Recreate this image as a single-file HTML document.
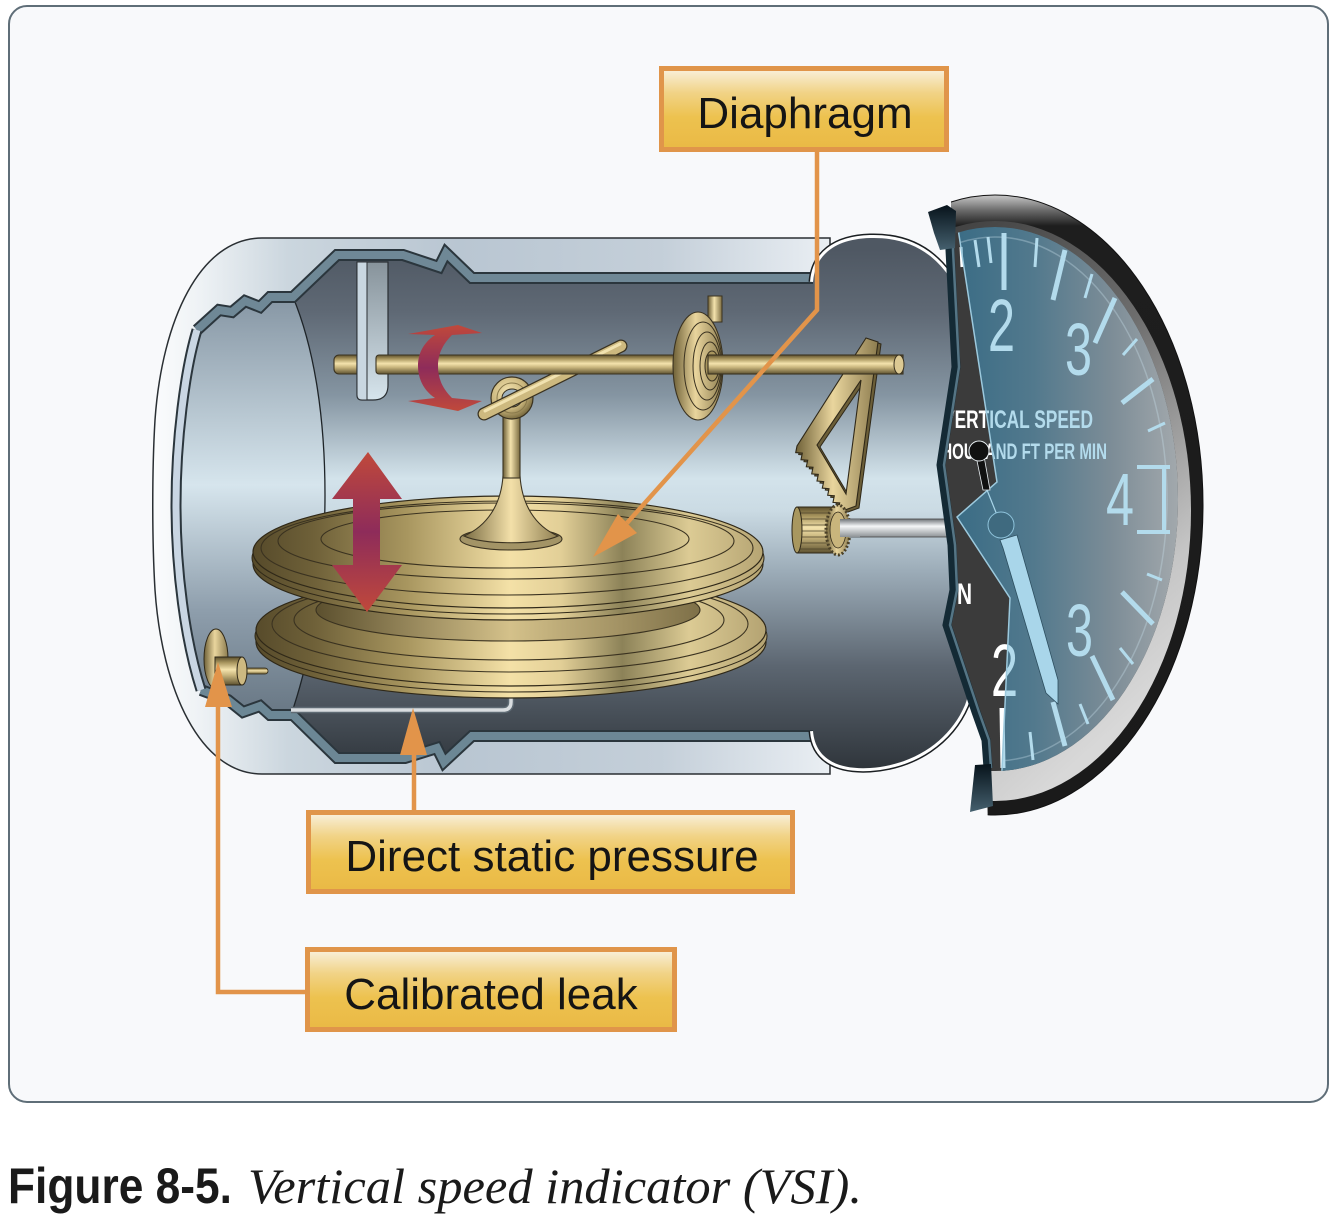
<!DOCTYPE html>
<html><head><meta charset="utf-8"><style>
html,body{margin:0;padding:0;background:#fff;}
svg{display:block;}
</style></head><body>
<svg width="1336" height="1220" viewBox="0 0 1336 1220" xmlns="http://www.w3.org/2000/svg" font-family="'Liberation Sans', Arial, sans-serif">
<defs>
<linearGradient id="shellG" gradientUnits="userSpaceOnUse" x1="153" y1="0" x2="830" y2="0">
<stop offset="0" stop-color="#fbfcfd"/><stop offset="0.07" stop-color="#eef2f5"/><stop offset="0.2" stop-color="#cbd6de"/><stop offset="0.45" stop-color="#b9c6d2"/><stop offset="0.75" stop-color="#c4cfd9"/><stop offset="0.95" stop-color="#e2e8ee"/><stop offset="1" stop-color="#eaeff3"/>
</linearGradient>
<linearGradient id="cav" gradientUnits="userSpaceOnUse" x1="0" y1="250" x2="0" y2="770">
<stop offset="0" stop-color="#4f5863"/><stop offset="0.12" stop-color="#5f6975"/><stop offset="0.28" stop-color="#8595a2"/><stop offset="0.44" stop-color="#d3e3eb"/><stop offset="0.5" stop-color="#cbdbe4"/><stop offset="0.62" stop-color="#9babb7"/><stop offset="0.8" stop-color="#5c6671"/><stop offset="1" stop-color="#2f353b"/>
</linearGradient>
<linearGradient id="lwall" gradientUnits="userSpaceOnUse" x1="0" y1="297" x2="0" y2="715">
<stop offset="0" stop-color="#8696a4"/><stop offset="0.45" stop-color="#d6e5ed"/><stop offset="0.75" stop-color="#8e9eac"/><stop offset="1" stop-color="#687784"/>
</linearGradient>
<linearGradient id="rodV" x1="0" y1="0" x2="0" y2="1">
<stop offset="0" stop-color="#5c4f2c"/><stop offset="0.2" stop-color="#a8955e"/><stop offset="0.45" stop-color="#f4e3ad"/><stop offset="0.65" stop-color="#c8b57d"/><stop offset="1" stop-color="#5e5230"/>
</linearGradient>
<linearGradient id="rodH" x1="0" y1="0" x2="1" y2="0">
<stop offset="0" stop-color="#6a5c34"/><stop offset="0.45" stop-color="#f4e3ad"/><stop offset="1" stop-color="#7a6b40"/>
</linearGradient>
<linearGradient id="coilG" x1="0" y1="0" x2="1" y2="0">
<stop offset="0" stop-color="#6f6138"/><stop offset="0.45" stop-color="#e9d59d"/><stop offset="1" stop-color="#8c7c4f"/>
</linearGradient>
<linearGradient id="disc" gradientUnits="userSpaceOnUse" x1="253" y1="0" x2="766" y2="0">
<stop offset="0" stop-color="#564a2a"/><stop offset="0.12" stop-color="#6f6139"/><stop offset="0.3" stop-color="#a8965f"/><stop offset="0.5" stop-color="#f4e1a7"/><stop offset="0.6" stop-color="#e2cf97"/><stop offset="0.72" stop-color="#8c8258"/><stop offset="0.85" stop-color="#dccb94"/><stop offset="1" stop-color="#b4a372"/>
</linearGradient>
<linearGradient id="discD" gradientUnits="userSpaceOnUse" x1="320" y1="0" x2="700" y2="0">
<stop offset="0" stop-color="#5e5230"/><stop offset="0.5" stop-color="#d4c18a"/><stop offset="1" stop-color="#7e7048"/>
</linearGradient>
<linearGradient id="footG" x1="0" y1="0" x2="1" y2="0">
<stop offset="0" stop-color="#7b6d44"/><stop offset="0.5" stop-color="#f3e0a9"/><stop offset="1" stop-color="#8f7f52"/>
</linearGradient>
<radialGradient id="ringG" cx="0.4" cy="0.35" r="0.7">
<stop offset="0" stop-color="#f3e3ae"/><stop offset="0.6" stop-color="#c9b57c"/><stop offset="1" stop-color="#6e6036"/>
</radialGradient>
<linearGradient id="redV" x1="0" y1="0" x2="0" y2="1">
<stop offset="0" stop-color="#c0493b"/><stop offset="0.5" stop-color="#8e2c5a"/><stop offset="1" stop-color="#c0493b"/>
</linearGradient>
<linearGradient id="bracketG" x1="0" y1="0" x2="0" y2="1">
<stop offset="0" stop-color="#87939b"/><stop offset="1" stop-color="#d6e4ec"/>
</linearGradient>
<linearGradient id="silver" x1="0" y1="0" x2="0" y2="1">
<stop offset="0" stop-color="#6f7478"/><stop offset="0.4" stop-color="#f4f6f7"/><stop offset="1" stop-color="#8d9296"/>
</linearGradient>
<linearGradient id="label" x1="0" y1="0" x2="0" y2="1">
<stop offset="0" stop-color="#f9f1de"/><stop offset="0.3" stop-color="#f1d386"/><stop offset="0.6" stop-color="#edc24f"/><stop offset="1" stop-color="#eab945"/>
</linearGradient>
<linearGradient id="bzA" x1="0" y1="0" x2="0" y2="1">
<stop offset="0" stop-color="#c9c9c9"/><stop offset="0.025" stop-color="#6a6a6a"/><stop offset="0.05" stop-color="#1e1e1e"/><stop offset="1" stop-color="#1a1a1a"/>
</linearGradient>
<linearGradient id="bzB" x1="0" y1="0" x2="0.6" y2="1">
<stop offset="0" stop-color="#2a2a2a"/><stop offset="0.5" stop-color="#6d6d6d"/><stop offset="0.85" stop-color="#c5c5c5"/><stop offset="1" stop-color="#d8d8d8"/>
</linearGradient>
<linearGradient id="glassG" gradientUnits="userSpaceOnUse" x1="955" y1="0" x2="1180" y2="0">
<stop offset="0" stop-color="#3a6c85"/><stop offset="0.35" stop-color="#52798d"/><stop offset="0.7" stop-color="#7d8d97"/><stop offset="1" stop-color="#a3a9ad"/>
</linearGradient>
<linearGradient id="blockG" x1="0" y1="0" x2="0" y2="1">
<stop offset="0" stop-color="#07131b"/><stop offset="1" stop-color="#45606e"/>
</linearGradient>
<clipPath id="gclip"><polygon points="951,180 951,212 950,250 956,367 941,465 952,545 954,590 947,625 976,712 986,740 988,830 1260,830 1260,180"/></clipPath>
<clipPath id="faceclip"><ellipse cx="995" cy="499" rx="183" ry="272"/></clipPath>
<clipPath id="glassclip"><polygon points="957,200 957,222 997,482 957,517 1010,598 1001,790 1260,790 1260,200"/></clipPath>
</defs>

<!-- frame -->
<rect x="9" y="6" width="1319" height="1096" rx="18" fill="#f8f9fb" stroke="#5f6e78" stroke-width="2"/>

<!-- shell -->
<path d="M830,238 L262,238 C200,238 162,320 155,420 C152,470 152,540 155,590 C162,690 200,774 262,774 L830,774 Z" fill="url(#shellG)" stroke="#2a2f33" stroke-width="1.5"/>

<!-- cavity -->
<path d="M197,330 L219,310 L232,312 L245,301 L260,307 L270,297 L293,297 L337,255 L403,255 L439,267 L446,253 L472,278 L845,278 L845,736 L472,736 L444,762 L437,748 L405,758 L337,758 L293,715 L270,715 L260,706 L243,712 L228,700 L201,690 C185,640 176,570 176,505 C176,440 185,370 197,330 Z" fill="url(#cav)"/>
<path d="M197,330 L219,310 L232,312 L245,301 L260,307 L270,297 L293,297 C315,350 325,420 325,495 C325,580 310,660 291,715 L270,715 L260,706 L243,712 L228,700 L201,690 C185,640 176,570 176,505 C176,440 185,370 197,330 Z" fill="url(#lwall)"/>
<path d="M293,297 C315,350 325,420 325,495 C325,580 310,660 291,715" fill="none" stroke="#1e2428" stroke-width="1.3"/>

<!-- bands -->
<polyline points="197,330 219,310 232,312 245,301 260,307 270,297 293,297 337,255 403,255 439,267 446,253 472,278 840,278" fill="none" stroke="#2b363d" stroke-width="12"/>
<polyline points="197,330 219,310 232,312 245,301 260,307 270,297 293,297 337,255 403,255 439,267 446,253 472,278 840,278" fill="none" stroke="#6f8896" stroke-width="8"/>
<polyline points="201,690 228,700 243,712 260,706 270,715 293,715 337,758 405,758 437,748 444,762 472,736 840,736" fill="none" stroke="#2b363d" stroke-width="12"/>
<polyline points="201,690 228,700 243,712 260,706 270,715 293,715 337,758 405,758 437,748 444,762 472,736 840,736" fill="none" stroke="#6c8795" stroke-width="8"/>
<path d="M197,330 C185,370 176,440 176,505 C176,570 185,640 201,690" fill="none" stroke="#2b363d" stroke-width="11"/>
<path d="M197,330 C185,370 176,440 176,505 C176,570 185,640 201,690" fill="none" stroke="#c9d6e3" stroke-width="7"/>

<!-- right cap -->
<path d="M813,282 C815,255 835,239 870,238 C905,237 930,250 948,275 C975,330 985,420 985,505 C985,600 978,670 965,705 C950,740 915,765 870,768 C835,770 815,757 813,731" fill="none" stroke="#1b1f22" stroke-width="9"/>
<path d="M813,282 C815,255 835,239 870,238 C905,237 930,250 948,275 C975,330 985,420 985,505 C985,600 978,670 965,705 C950,740 915,765 870,768 C835,770 815,757 813,731" fill="none" stroke="#ffffff" stroke-width="6"/>
<path d="M813,282 C815,255 835,239 870,238 C905,237 930,250 948,275 C975,330 985,420 985,505 C985,600 978,670 965,705 C950,740 915,765 870,768 C835,770 815,757 813,731 Z" fill="url(#cav)"/>

<!-- tube & calibrated leak -->
<path d="M291,710 L503,710 Q511,710 511,702 L511,697" fill="none" stroke="#5f6b74" stroke-width="6.5"/>
<path d="M291,710 L503,710 Q511,710 511,702 L511,697" fill="none" stroke="#d9dde0" stroke-width="3.5"/>
<ellipse cx="216" cy="659" rx="12" ry="30" fill="url(#coilG)" stroke="#2f2818" stroke-width="1"/>
<rect x="243" y="668" width="25" height="6" rx="3" fill="url(#rodV)" stroke="#2f2818" stroke-width="0.8"/>
<rect x="215" y="657" width="27" height="28" fill="url(#rodV)" stroke="#2f2818" stroke-width="1"/>
<ellipse cx="242" cy="671" rx="5" ry="14" fill="#cdb981" stroke="#2f2818" stroke-width="1"/>

<!-- lower disc -->
<ellipse cx="511" cy="642" rx="255" ry="56" fill="url(#disc)" stroke="#2f2818" stroke-width="1.2"/>
<ellipse cx="511" cy="636" rx="256" ry="56" fill="url(#disc)" stroke="#2f2818" stroke-width="1"/>
<ellipse cx="511" cy="630" rx="255" ry="56" fill="url(#disc)" stroke="#2f2818" stroke-width="1.2"/>
<ellipse cx="510" cy="624" rx="238" ry="48" fill="none" stroke="#3a3220" stroke-width="1.1"/>
<ellipse cx="509" cy="620" rx="215" ry="40" fill="none" stroke="#3a3220" stroke-width="1.1"/>
<ellipse cx="508" cy="610" rx="192" ry="31" fill="url(#discD)" stroke="#3a3220" stroke-width="1.1"/>
<!-- upper disc -->
<ellipse cx="508" cy="564" rx="255" ry="56" fill="url(#disc)" stroke="#2f2818" stroke-width="1.2"/>
<ellipse cx="508" cy="558" rx="256" ry="56" fill="url(#disc)" stroke="#2f2818" stroke-width="1"/>
<ellipse cx="508" cy="552" rx="255" ry="56" fill="url(#disc)" stroke="#2f2818" stroke-width="1.2"/>
<ellipse cx="507" cy="548" rx="246" ry="47" fill="none" stroke="#3a3220" stroke-width="1.1"/>
<ellipse cx="506" cy="541" rx="228" ry="38" fill="none" stroke="#3a3220" stroke-width="1.1"/>
<ellipse cx="505" cy="539" rx="184" ry="29" fill="none" stroke="#3a3220" stroke-width="1.1"/>
<ellipse cx="511" cy="539" rx="51" ry="11" fill="#a39466" stroke="#3a3220" stroke-width="1.1"/>
<!-- foot & post -->
<path d="M503,476 L520,476 C522,505 535,526 558,536 C540,545 482,545 464,536 C487,526 501,505 503,476 Z" fill="url(#footG)" stroke="#3a3220" stroke-width="1.1"/>
<rect x="503" y="416" width="17" height="62" fill="url(#rodH)" stroke="#3a3220" stroke-width="1.1"/>

<!-- red double arrow -->
<polygon points="368,452 402,499 380,499 380,565 402,565 367,612 332,565 353,565 353,499 332,499" fill="url(#redV)"/>

<!-- rod left, bracket -->
<rect x="334" y="355" width="40" height="19" rx="5" fill="url(#rodV)" stroke="#3a3220" stroke-width="1.1"/>
<path d="M357,262 L388,262 L388,385 Q388,400 373,400 L362,400 Q357,400 357,395 Z" fill="url(#bracketG)" stroke="#2a2f33" stroke-width="1.2"/>
<path d="M357,262 L367,262 L367,400 L362,400 Q357,400 357,395 Z" fill="#c9d7e1" stroke="#2a2f33" stroke-width="1"/>

<!-- ring & arm -->
<circle cx="512" cy="398" r="21" fill="url(#ringG)" stroke="#3a3220" stroke-width="1.2"/>
<circle cx="512" cy="398" r="15" fill="none" stroke="#8a7a4c" stroke-width="1"/>
<ellipse cx="512" cy="398" rx="10" ry="9" fill="#9fb2bf" stroke="#3a3220" stroke-width="1"/>
<line x1="484" y1="414" x2="621" y2="346" stroke="#3a3220" stroke-width="13" stroke-linecap="round"/>
<line x1="484" y1="414" x2="621" y2="346" stroke="#cdb97f" stroke-width="10.5" stroke-linecap="round"/>
<line x1="485" y1="411" x2="620" y2="344" stroke="#f1e2b0" stroke-width="3" stroke-linecap="round"/>

<!-- main rod -->
<rect x="376" y="355" width="527" height="19" rx="3" fill="url(#rodV)" stroke="#3a3220" stroke-width="1.1"/>

<!-- rotation arrow -->
<path d="M408,334 L458,325 L482,333 L452,335 C442,345 438,355 438,366 C438,378 442,388 452,398 L482,401 L458,411 L408,401 L435,398 C423,390 418,378 418,366 C418,354 423,343 435,335 Z" fill="url(#redV)"/>

<!-- coil spring -->
<rect x="708" y="296" width="14" height="26" fill="url(#rodH)" stroke="#3a3220" stroke-width="1"/>
<ellipse cx="698" cy="366" rx="25" ry="54" fill="url(#coilG)" stroke="#3a3220" stroke-width="1.1"/>
<ellipse cx="703" cy="366" rx="19" ry="44" fill="none" stroke="#3a3220" stroke-width="1"/>
<ellipse cx="707" cy="366" rx="14" ry="34" fill="none" stroke="#3a3220" stroke-width="1"/>
<ellipse cx="710" cy="366" rx="10" ry="24" fill="none" stroke="#3a3220" stroke-width="1"/>
<ellipse cx="712" cy="366" rx="7" ry="15" fill="#a8955e" stroke="#3a3220" stroke-width="1"/>

<!-- sector gear -->
<path transform="translate(3,2)" fill="#6b5e38" fill-rule="evenodd" stroke="#2f2818" stroke-width="1" d="M866,338 L878,342 L856,506 L845,510 L838.3,509.5 L839.7,502.9 L833,502.4 L834.3,495.8 L827.7,495.3 L829,488.7 L822.3,488.1 L823.7,481.6 L817,481 L818.3,474.4 L811.7,473.9 L813,467.3 L806.3,466.8 L807.7,460.2 L801,459.7 L802.3,453.1 L795.7,452.6 L797,446 Z M861,380 L846,494 L817,445 Z"/>
<path fill="url(#coilG)" fill-rule="evenodd" stroke="#2f2818" stroke-width="1.1" d="M866,338 L878,342 L856,506 L845,510 L838.3,509.5 L839.7,502.9 L833,502.4 L834.3,495.8 L827.7,495.3 L829,488.7 L822.3,488.1 L823.7,481.6 L817,481 L818.3,474.4 L811.7,473.9 L813,467.3 L806.3,466.8 L807.7,460.2 L801,459.7 L802.3,453.1 L795.7,452.6 L797,446 Z M861,380 L846,494 L817,445 Z"/>

<!-- rod right segment -->
<rect x="708" y="355" width="195" height="19" fill="url(#rodV)" stroke="#3a3220" stroke-width="1.1"/>
<ellipse cx="899" cy="364.5" rx="5" ry="9.5" fill="#dcc993" stroke="#3a3220" stroke-width="1"/>

<!-- pinion & shaft -->
<rect x="836" y="519" width="115" height="18" fill="url(#silver)" stroke="#444" stroke-width="0.8"/>
<rect x="797" y="507" width="39" height="46" fill="url(#rodV)" stroke="#2f2818" stroke-width="1"/>
<g stroke="#4a4028" stroke-width="0.8">
<line x1="797" y1="513" x2="836" y2="513"/><line x1="797" y1="519" x2="836" y2="519"/><line x1="797" y1="525" x2="836" y2="525"/><line x1="797" y1="531" x2="836" y2="531"/><line x1="797" y1="537" x2="836" y2="537"/><line x1="797" y1="543" x2="836" y2="543"/><line x1="797" y1="549" x2="836" y2="549"/>
</g>
<ellipse cx="797" cy="530" rx="5" ry="23" fill="#a8975f" stroke="#2f2818" stroke-width="1"/>
<ellipse cx="838" cy="530" rx="12" ry="25" fill="url(#coilG)" stroke="#4a4028" stroke-width="3" stroke-dasharray="2 2"/>
<ellipse cx="838" cy="530" rx="8" ry="18" fill="#c9b57c" stroke="#2f2818" stroke-width="0.8"/>
<rect x="840" y="519" width="20" height="18" fill="url(#silver)"/>

<!-- GAUGE -->
<g clip-path="url(#gclip)">
<ellipse cx="995" cy="505" rx="208" ry="310" fill="url(#bzA)" stroke="#111" stroke-width="1"/>
<ellipse cx="995" cy="511" rx="196" ry="290" fill="url(#bzB)"/>
<ellipse cx="995" cy="499" rx="183" ry="272" fill="#3b3b3b"/>
<g clip-path="url(#faceclip)">
<g stroke="#ffffff" fill="none">
<g stroke-width="3"><line x1="961" y1="247" x2="962" y2="267"/><line x1="975" y1="240" x2="979" y2="267"/><line x1="988" y1="237" x2="991" y2="263"/><line x1="1037" y1="238" x2="1035" y2="267"/><line x1="1092" y1="274" x2="1085" y2="298"/><line x1="1137" y1="339" x2="1123" y2="355"/><line x1="1165" y1="423" x2="1148" y2="431"/><line x1="1162" y1="580" x2="1147" y2="574"/><line x1="1133" y1="664" x2="1120" y2="648"/><line x1="1088" y1="724" x2="1080" y2="704"/><line x1="1033" y1="760" x2="1030" y2="732"/></g>
<g stroke-width="5"><line x1="1004" y1="233" x2="1004" y2="290"/><line x1="1065" y1="250" x2="1053" y2="300"/><line x1="1115" y1="298" x2="1095" y2="343"/><line x1="1153" y1="379" x2="1122" y2="403"/><line x1="1153" y1="624" x2="1122" y2="592"/><line x1="1113" y1="700" x2="1092" y2="656"/><line x1="1065" y1="746" x2="1053" y2="702"/><line x1="1003" y1="768" x2="1002" y2="708"/></g>
<g stroke-width="4"><line x1="1137" y1="467" x2="1170" y2="467"/><line x1="1137" y1="532" x2="1170" y2="532"/><line x1="1164" y1="467" x2="1164" y2="532"/></g>
</g>
<g fill="#ffffff">
<text x="988" y="351" font-size="74" textLength="27" lengthAdjust="spacingAndGlyphs">2</text>
<text x="1065" y="375" font-size="74" textLength="27" lengthAdjust="spacingAndGlyphs">3</text>
<text x="1106" y="525" font-size="74" textLength="28" lengthAdjust="spacingAndGlyphs">4</text>
<text x="1066" y="656" font-size="74" textLength="27" lengthAdjust="spacingAndGlyphs">3</text>
<text x="991" y="696" font-size="74" textLength="27" lengthAdjust="spacingAndGlyphs">2</text>
<text x="943" y="428" font-size="25" font-weight="bold" textLength="150" lengthAdjust="spacingAndGlyphs">VERTICAL SPEED</text>
<text x="932" y="459" font-size="22" font-weight="bold" textLength="175" lengthAdjust="spacingAndGlyphs">THOUSAND FT PER MIN</text>
<text x="906" y="604" font-size="30" font-weight="bold" textLength="66" lengthAdjust="spacingAndGlyphs">DOWN</text>
</g>
<g clip-path="url(#glassclip)">
<rect x="940" y="200" width="260" height="600" fill="url(#glassG)"/>
<ellipse cx="995" cy="499" rx="172" ry="262" fill="none" stroke="#c8e0ea" stroke-opacity="0.35" stroke-width="1.5"/>
<g stroke="#b3dbec" fill="none">
<g stroke-width="3"><line x1="961" y1="247" x2="962" y2="267"/><line x1="975" y1="240" x2="979" y2="267"/><line x1="988" y1="237" x2="991" y2="263"/><line x1="1037" y1="238" x2="1035" y2="267"/><line x1="1092" y1="274" x2="1085" y2="298"/><line x1="1137" y1="339" x2="1123" y2="355"/><line x1="1165" y1="423" x2="1148" y2="431"/><line x1="1162" y1="580" x2="1147" y2="574"/><line x1="1133" y1="664" x2="1120" y2="648"/><line x1="1088" y1="724" x2="1080" y2="704"/><line x1="1033" y1="760" x2="1030" y2="732"/></g>
<g stroke-width="5"><line x1="1004" y1="233" x2="1004" y2="290"/><line x1="1065" y1="250" x2="1053" y2="300"/><line x1="1115" y1="298" x2="1095" y2="343"/><line x1="1153" y1="379" x2="1122" y2="403"/><line x1="1153" y1="624" x2="1122" y2="592"/><line x1="1113" y1="700" x2="1092" y2="656"/><line x1="1065" y1="746" x2="1053" y2="702"/><line x1="1003" y1="768" x2="1002" y2="708"/></g>
<g stroke-width="4"><line x1="1137" y1="467" x2="1170" y2="467"/><line x1="1137" y1="532" x2="1170" y2="532"/><line x1="1164" y1="467" x2="1164" y2="532"/></g>
</g>
<g fill="#b3dbec">
<text x="988" y="351" font-size="74" textLength="27" lengthAdjust="spacingAndGlyphs">2</text>
<text x="1065" y="375" font-size="74" textLength="27" lengthAdjust="spacingAndGlyphs">3</text>
<text x="1106" y="525" font-size="74" textLength="28" lengthAdjust="spacingAndGlyphs">4</text>
<text x="1066" y="656" font-size="74" textLength="27" lengthAdjust="spacingAndGlyphs">3</text>
<text x="991" y="696" font-size="74" textLength="27" lengthAdjust="spacingAndGlyphs">2</text>
<text x="943" y="428" font-size="25" font-weight="bold" textLength="150" lengthAdjust="spacingAndGlyphs">VERTICAL SPEED</text>
<text x="932" y="459" font-size="22" font-weight="bold" textLength="175" lengthAdjust="spacingAndGlyphs">THOUSAND FT PER MIN</text>
</g>
</g>
<polyline points="957,222 997,482 957,517 1010,598 1001,790" fill="none" stroke="#9cc9dd" stroke-width="1.5"/>
</g>
<path d="M976,456 L984,456 L990,490 L983,490 Z" fill="#111" stroke="#e8eef2" stroke-width="0.8"/>
<circle cx="979" cy="451" r="10" fill="#111" stroke="#e8eef2" stroke-width="1"/>
<line x1="987" y1="490" x2="997" y2="515" stroke="#a9d6ea" stroke-width="1.2"/>
<circle cx="1001" cy="525" r="13" fill="#3f6a7f" stroke="#8fc4dc" stroke-width="1"/>
<polygon points="1000,540 1017,535 1058,680 1058,704 1046,693 1003,548" fill="#a9d6ea" stroke="#2d4f60" stroke-width="0.8"/>
</g>
<!-- cut band -->
<polyline points="951,212 950,250 956,367 941,465 952,545 954,590 947,625 976,712 986,740 988,768" fill="none" stroke="#142a35" stroke-width="9"/>
<polyline points="954,212 953,250 959,367 944,465 955,545 957,590 950,625 979,712 989,740 991,768" fill="none" stroke="#557585" stroke-width="2.5"/>
<polygon points="928,212 947,205 956,211 955,248 940,250 934,233" fill="url(#blockG)"/>
<polygon points="975,765 991,764 993,806 970,812" fill="url(#blockG)"/>

<!-- connectors -->
<g stroke="#e2944a" stroke-width="4.5" fill="none">
<polyline points="817,151 817,310 627,523"/>
<line x1="414" y1="810" x2="414" y2="750"/>
<polyline points="305,992 218,992 218,705"/>
</g>
<g fill="#e2944a">
<polygon points="593,557 618,514 637,533"/>
<polygon points="413,708 400,755 427,755"/>
<polygon points="218,662 205,707 232,707"/>
</g>

<!-- labels -->
<rect x="661.5" y="68.5" width="285" height="81" fill="url(#label)" stroke="#e0954a" stroke-width="5"/>
<text x="805" y="128" font-size="44" text-anchor="middle" fill="#151515">Diaphragm</text>
<rect x="308.5" y="812.5" width="484" height="79" fill="url(#label)" stroke="#e0954a" stroke-width="5"/>
<text x="552" y="871" font-size="44" text-anchor="middle" fill="#151515">Direct static pressure</text>
<rect x="307.5" y="949.5" width="367" height="80" fill="url(#label)" stroke="#e0954a" stroke-width="5"/>
<text x="491" y="1009" font-size="44" text-anchor="middle" fill="#151515">Calibrated leak</text>

<!-- caption -->
<text x="8" y="1203" font-size="50" font-weight="bold" fill="#1a1a1a" textLength="224" lengthAdjust="spacingAndGlyphs">Figure 8-5.</text>
<text x="248" y="1203" font-family="'Liberation Serif', 'Times New Roman', serif" font-style="italic" font-size="50" fill="#1a1a1a" textLength="614" lengthAdjust="spacingAndGlyphs">Vertical speed indicator (VSI).</text>
</svg>
</body></html>
